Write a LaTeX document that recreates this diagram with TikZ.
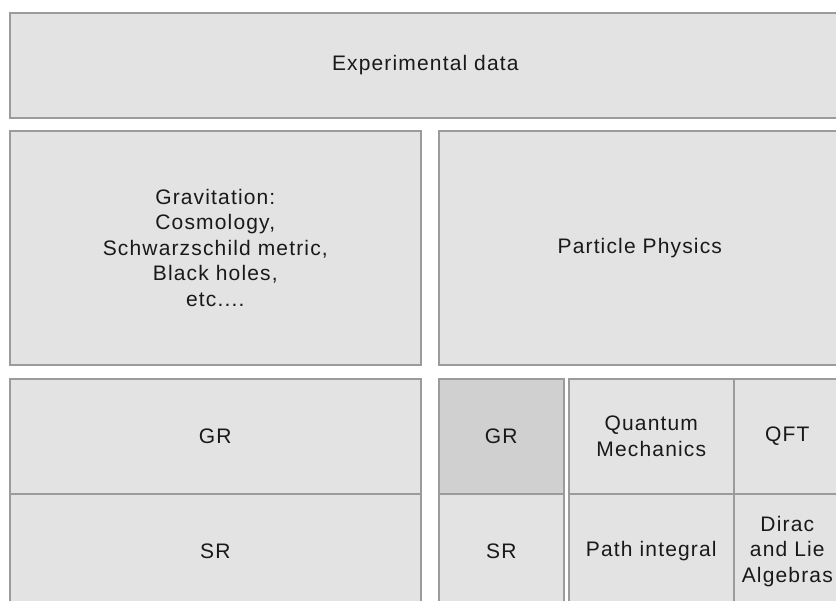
\documentclass[tikz,border=0pt]{standalone}
\usepackage{fontspec}
\newfontfamily\cellfont{Liberation Sans}[LetterSpace=5.5]
\definecolor{cellfill}{RGB}{227,227,227}
\definecolor{cellgr}{RGB}{208,208,208}
\definecolor{cellline}{RGB}{155,155,155}
\definecolor{celltext}{RGB}{25,25,25}
\tikzset{cell/.style={draw=cellline,fill=cellfill,line width=1.6pt,anchor=north west,inner sep=0pt,align=center,text=celltext,font=\cellfont\fontsize{21}{25.5}\selectfont},
 size/.style 2 args={minimum width=#1,minimum height=#2}}

\begin{document}
\begin{tikzpicture}[x=1pt,y=-1pt]
\useasboundingbox (0,0) rectangle (836,601);
\clip (0,0) rectangle (836,601);
% top row
\node[cell,size={831pt}{105pt}] (data) at (9,12) {Experimental data};
% middle row
\node[cell,size={411pt}{234pt}] (grav) at (9,130) {Gravitation:\\Cosmology,\\Schwarzschild metric,\\Black holes,\\etc....};
\node[cell,size={402pt}{234pt}] (pp) at (438,130) {Particle Physics};
% bottom row, left
\node[cell,size={411pt}{115pt}] (grl) at (9,378) {GR};
\node[cell,size={411pt}{115pt}] (srl) at (9,493) {SR};
% bottom row, right
\node[cell,fill=cellgr,size={125pt}{115pt}] (grr) at (438,378) {GR};
\node[cell,size={125pt}{115pt}] (srr) at (438,493) {SR};
\node[cell,size={165pt}{115pt}] (qm) at (568,378) {Quantum\\Mechanics};
\node[cell,size={107pt}{115pt}] (qft) at (733,378) {QFT};
\node[cell,size={165pt}{115pt}] (path) at (568,493) {Path integral};
\node[cell,size={107pt}{115pt}] (dirac) at (733,493) {Dirac\\and Lie\\Algebras};
\end{tikzpicture}
\end{document}
